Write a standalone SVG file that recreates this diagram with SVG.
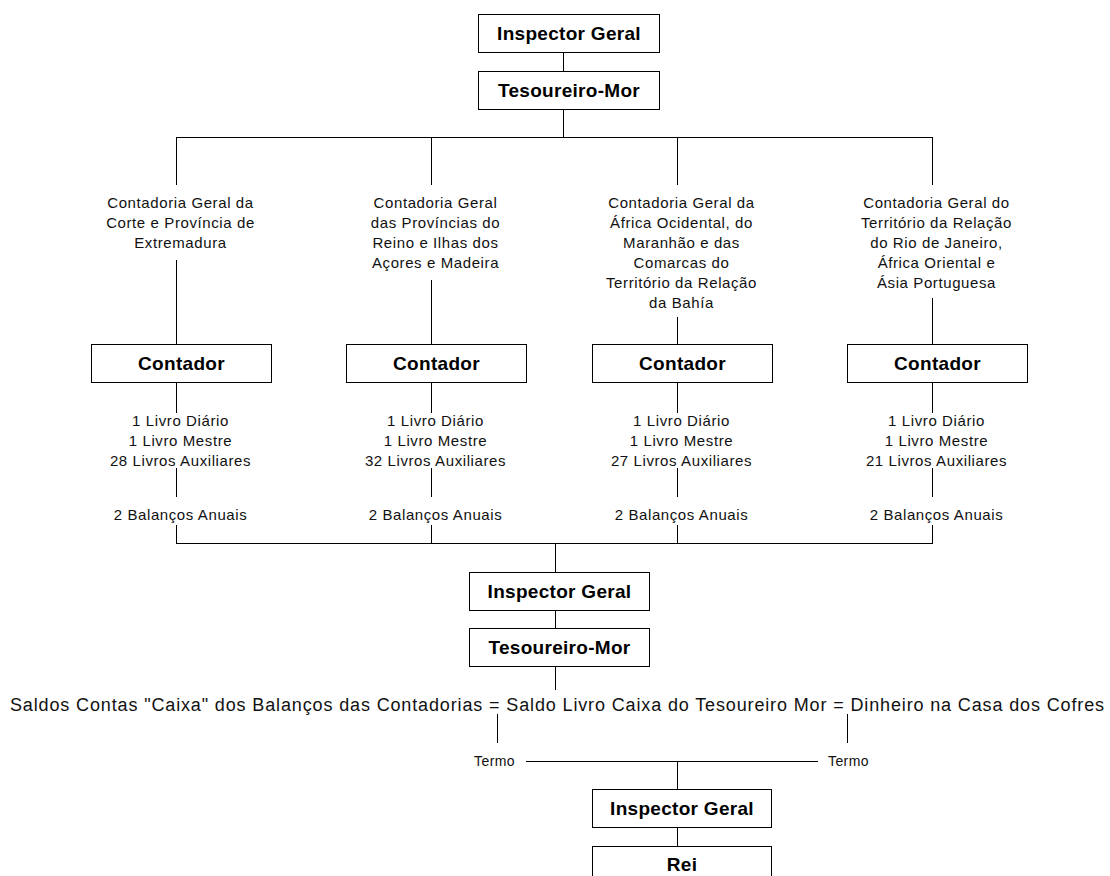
<svg xmlns="http://www.w3.org/2000/svg" width="1110" height="876" viewBox="0 0 1110 876">
<style>
.box{fill:#fff;stroke:#000;stroke-width:1}
.ln{stroke:#000;stroke-width:1;fill:none}
.b{font-family:"Liberation Sans",Arial,sans-serif;font-weight:bold;font-size:19px;letter-spacing:0.3px;text-anchor:middle;fill:#000}
.t{font-family:"Liberation Sans",Arial,sans-serif;font-size:15px;letter-spacing:0.6px;text-anchor:middle;fill:#111}
.big{font-family:"Liberation Sans",Arial,sans-serif;font-size:18px;fill:#111}
.sm{font-family:"Liberation Sans",Arial,sans-serif;font-size:14px;letter-spacing:0.4px;fill:#111}
</style>
<rect width="1110" height="876" fill="#fff"/>
<g id="connectors">
<path class="ln" d="M563.5 52V71M563.5 109V137.5M176 137.5H932.5M176.5 137V185M431.5 137V185M677.5 137V185M932.5 137V185"/>
<path class="ln" d="M176.5 260V344M431.5 280V344M677.5 317V344M932.5 298V344"/>
<path class="ln" d="M176.5 382V413M431.5 382V413M677.5 382V413M932.5 382V413"/>
<path class="ln" d="M176.5 468V497M431.5 468V497M677.5 468V497M932.5 468V497"/>
<path class="ln" d="M176.5 525V543.5M431.5 525V543.5M677.5 525V543.5M932.5 525V543.5M176 543.5H933"/>
<path class="ln" d="M555.5 543V572M555.5 610V628M555.5 666V690"/>
<path class="ln" d="M497.5 714V743M847.5 714V743M526 761.5H818M677.5 761V789M677.5 827V846"/>
</g>
<g id="n-inspector1"><rect class="box" x="478.5" y="14.5" width="181" height="38"/><text class="b" x="569" y="40">Inspector Geral</text></g>
<g id="n-tesoureiro1"><rect class="box" x="478.5" y="71.5" width="181" height="38"/><text class="b" x="569" y="97">Tesoureiro-Mor</text></g>
<g id="n-cont1-label"><text class="t" y="207.5"><tspan x="180.5">Contadoria Geral da</tspan><tspan x="180.5" dy="20">Corte e Província de</tspan><tspan x="180.5" dy="20">Extremadura</tspan></text></g>
<g id="n-cont2-label"><text class="t" y="207.5"><tspan x="435.5">Contadoria Geral</tspan><tspan x="435.5" dy="20">das Províncias do</tspan><tspan x="435.5" dy="20">Reino e Ilhas dos</tspan><tspan x="435.5" dy="20">Açores e Madeira</tspan></text></g>
<g id="n-cont3-label"><text class="t" y="207.5"><tspan x="681.5">Contadoria Geral da</tspan><tspan x="681.5" dy="20">África Ocidental, do</tspan><tspan x="681.5" dy="20">Maranhão e das</tspan><tspan x="681.5" dy="20">Comarcas do</tspan><tspan x="681.5" dy="20">Território da Relação</tspan><tspan x="681.5" dy="20">da Bahía</tspan></text></g>
<g id="n-cont4-label"><text class="t" y="207.5"><tspan x="936.5">Contadoria Geral do</tspan><tspan x="936.5" dy="20">Território da Relação</tspan><tspan x="936.5" dy="20">do Rio de Janeiro,</tspan><tspan x="936.5" dy="20">África Oriental e</tspan><tspan x="936.5" dy="20">Ásia Portuguesa</tspan></text></g>
<g id="n-contador1"><rect class="box" x="91.5" y="344.5" width="180" height="38"/><text class="b" x="181.5" y="370">Contador</text></g>
<g id="n-contador2"><rect class="box" x="346.5" y="344.5" width="180" height="38"/><text class="b" x="436.5" y="370">Contador</text></g>
<g id="n-contador3"><rect class="box" x="592.5" y="344.5" width="180" height="38"/><text class="b" x="682.5" y="370">Contador</text></g>
<g id="n-contador4"><rect class="box" x="847.5" y="344.5" width="180" height="38"/><text class="b" x="937.5" y="370">Contador</text></g>
<g id="n-livros1"><text class="t" y="425.5"><tspan x="180.5">1 Livro Diário</tspan><tspan x="180.5" dy="20">1 Livro Mestre</tspan><tspan x="180.5" dy="20">28 Livros Auxiliares</tspan></text></g>
<g id="n-livros2"><text class="t" y="425.5"><tspan x="435.5">1 Livro Diário</tspan><tspan x="435.5" dy="20">1 Livro Mestre</tspan><tspan x="435.5" dy="20">32 Livros Auxiliares</tspan></text></g>
<g id="n-livros3"><text class="t" y="425.5"><tspan x="681.5">1 Livro Diário</tspan><tspan x="681.5" dy="20">1 Livro Mestre</tspan><tspan x="681.5" dy="20">27 Livros Auxiliares</tspan></text></g>
<g id="n-livros4"><text class="t" y="425.5"><tspan x="936.5">1 Livro Diário</tspan><tspan x="936.5" dy="20">1 Livro Mestre</tspan><tspan x="936.5" dy="20">21 Livros Auxiliares</tspan></text></g>
<g id="n-bal1"><text class="t" x="180.5" y="519.5">2 Balanços Anuais</text></g>
<g id="n-bal2"><text class="t" x="435.5" y="519.5">2 Balanços Anuais</text></g>
<g id="n-bal3"><text class="t" x="681.5" y="519.5">2 Balanços Anuais</text></g>
<g id="n-bal4"><text class="t" x="936.5" y="519.5">2 Balanços Anuais</text></g>
<g id="n-inspector2"><rect class="box" x="469.5" y="572.5" width="180" height="38"/><text class="b" x="559.5" y="598">Inspector Geral</text></g>
<g id="n-tesoureiro2"><rect class="box" x="469.5" y="628.5" width="180" height="38"/><text class="b" x="559.5" y="654">Tesoureiro-Mor</text></g>
<g id="n-saldos"><text class="big" x="10" y="711" textLength="1094" lengthAdjust="spacing">Saldos Contas "Caixa" dos Balanços das Contadorias = Saldo Livro Caixa do Tesoureiro Mor = Dinheiro na Casa dos Cofres</text></g>
<g id="n-termo1"><text class="sm" x="515" y="766" text-anchor="end">Termo</text></g>
<g id="n-termo2"><text class="sm" x="828" y="766">Termo</text></g>
<g id="n-inspector3"><rect class="box" x="592.5" y="789.5" width="179" height="38"/><text class="b" x="682" y="815">Inspector Geral</text></g>
<g id="n-rei"><rect class="box" x="592.5" y="846.5" width="179" height="40"/><text class="b" x="682" y="871">Rei</text></g>
</svg>
